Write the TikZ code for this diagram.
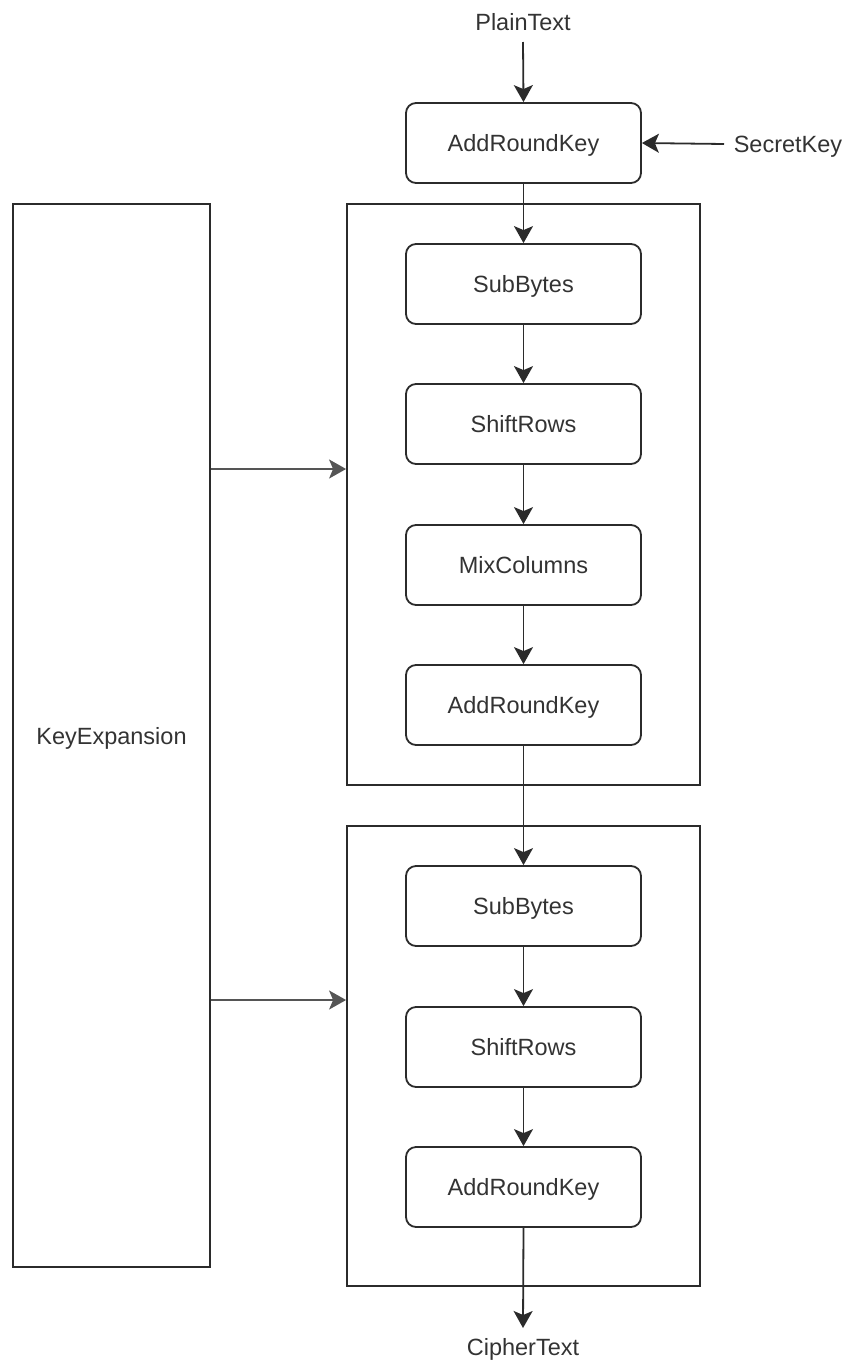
\documentclass[tikz,border=0pt]{standalone}
\usepackage{fontspec}
\setmainfont{Liberation Sans}
\usetikzlibrary{arrows.meta}
\definecolor{ink}{HTML}{2B2B2B}
\definecolor{txt}{HTML}{333333}
\definecolor{feed}{HTML}{555555}
\begin{document}
\begin{tikzpicture}[x=1pt,y=-1pt,
  stage/.style={draw=ink, line width=1.8pt, rounded corners=10pt, fill=white,
    minimum width=235pt, minimum height=80pt, inner sep=0pt,
    font=\fontsize{23.5}{28}\selectfont, text=txt, text height=17pt, text depth=0pt},
  frame/.style={draw=ink, line width=1.8pt, inner sep=0pt},
  lbl/.style={font=\fontsize{23.5}{28}\selectfont, text=txt, inner sep=0pt,
    text height=17pt, text depth=0pt},
  tip/.style={-{Stealth[length=17pt,width=19pt,inset=4pt]}},
  flow/.style={draw=ink, line width=1.8pt, tip},
  keyflow/.style={draw=feed, line width=1.8pt, tip}]
\useasboundingbox (0,0) rectangle (848,1363);

% key schedule and the two round frames
\node[frame, minimum width=197pt, minimum height=1063pt, lbl] (kexp) at (111.5,735.5) {KeyExpansion};
\node[frame, minimum width=353pt, minimum height=581pt] (round1) at (523.5,494.5) {};
\node[frame, minimum width=353pt, minimum height=460pt] (round2) at (523.5,1056) {};

% inputs and output
\node[lbl] (plain) at (523,22) {PlainText};
\node[lbl] (secret) at (788,144) {SecretKey};
\node[lbl] (cipher) at (523,1347) {CipherText};
\coordinate (plainEnd) at (523,42);
\coordinate (secretEnd) at (724,144);
\coordinate (cipherEnd) at (523,1328);

% initial key addition
\node[stage] (ark0) at (523.5,143) {AddRoundKey};

% main round
\node[stage] (sb1) at (523.5,284) {SubBytes};
\node[stage] (sr1) at (523.5,424) {ShiftRows};
\node[stage] (mc1) at (523.5,565) {MixColumns};
\node[stage] (ark1) at (523.5,705) {AddRoundKey};

% final round
\node[stage] (sb2) at (523.5,906) {SubBytes};
\node[stage] (sr2) at (523.5,1047) {ShiftRows};
\node[stage] (ark2) at (523.5,1187) {AddRoundKey};

% data path
\draw[flow] (plainEnd) -- (ark0.north);
\draw[flow] (secretEnd) -- (ark0.east);
\draw[flow] (ark0.south) -- (sb1.north);
\draw[flow] (sb1) -- (sr1);
\draw[flow] (sr1) -- (mc1);
\draw[flow] (mc1) -- (ark1);
\draw[flow] (ark1.south) -- (sb2.north);
\draw[flow] (sb2) -- (sr2);
\draw[flow] (sr2) -- (ark2);
\draw[flow] (ark2.south) -- (cipherEnd);

% round keys
\draw[keyflow] (kexp.east |- 0,469) -- (round1.west |- 0,469);
\draw[keyflow] (kexp.east |- 0,1000) -- (round2.west |- 0,1000);
\end{tikzpicture}
\end{document}
